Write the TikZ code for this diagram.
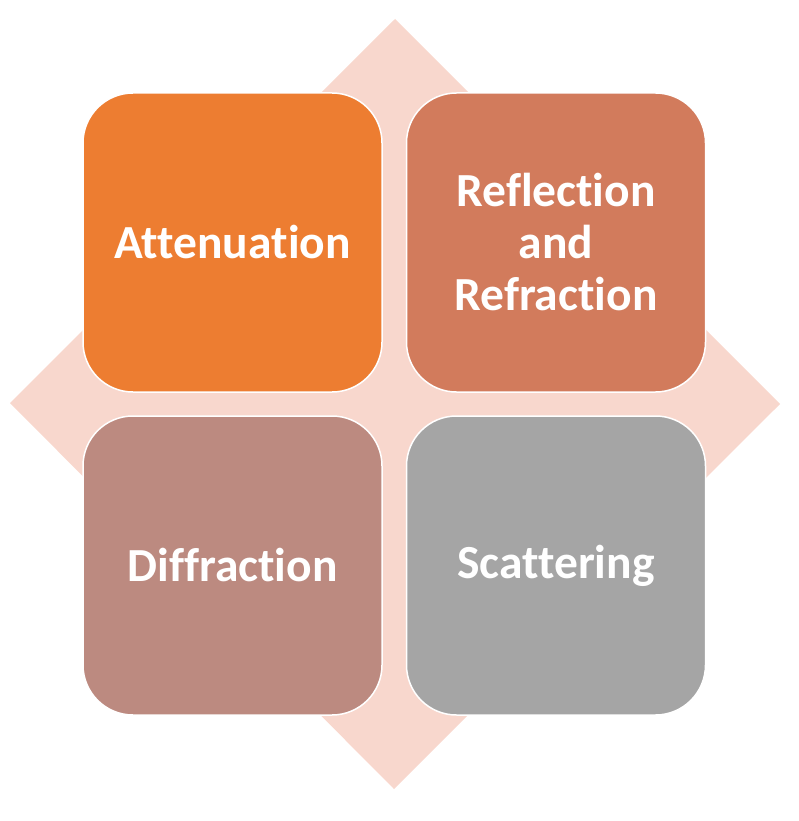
\documentclass[tikz,border=0pt]{standalone}
\usepackage{fontspec}
\setmainfont{Carlito}[Ligatures={NoCommon},RawFeature={-liga}]
\definecolor{diamondpink}{HTML}{F8D7CD}
\definecolor{attenorange}{HTML}{ED7D31}
\definecolor{reflbrown}{HTML}{D27B5C}
\definecolor{diffmauve}{HTML}{BC8A80}
\definecolor{scatgray}{HTML}{A5A5A5}
\tikzset{
  quad/.style={draw=white,line width=1.5pt,rounded corners=50pt,minimum width=299pt,minimum height=299pt,
    text=white,align=center,font=\bfseries\fontsize{47.5}{52}\selectfont,inner sep=0pt}
}
\begin{document}
\begin{tikzpicture}[x=1pt,y=-1pt]
\useasboundingbox (0,0) rectangle (799,821);
\fill[diamondpink] (395,19) -- (780,404) -- (394,789) -- (10,403) -- cycle;
\node[quad,fill=attenorange] at (232.5,242.5) (atten) {Attenuation};
\node[quad,fill=reflbrown] at (556,242.5) (refl) {Reflection\\and\\Refraction};
\node[quad,fill=diffmauve] at (232.5,565.5) (diff) {Diffraction};
\node[quad,fill=scatgray] at (556,565.5) (scat) {Scattering};
\end{tikzpicture}
\end{document}
